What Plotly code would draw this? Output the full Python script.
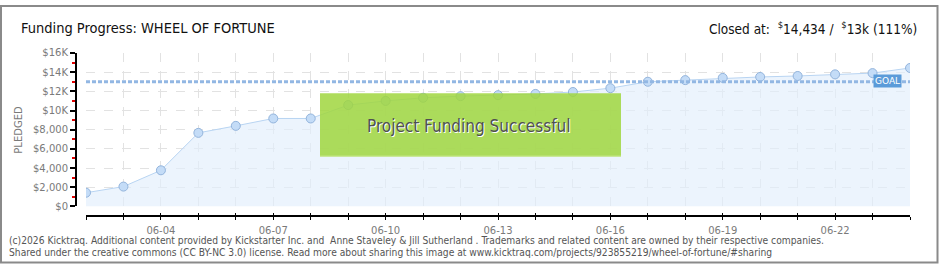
import plotly.graph_objects as go

# ---- data ----
dates = ["06-02", "06-03", "06-04", "06-05", "06-06", "06-07", "06-08", "06-09",
         "06-10", "06-11", "06-12", "06-13", "06-14", "06-15", "06-16", "06-17",
         "06-18", "06-19", "06-20", "06-21", "06-22", "06-23", "06-24"]
pledged = [1430, 2070, 3770, 7670, 8400, 9170, 9170, 10570,
           11000, 11330, 11500, 11600, 11730, 11930, 12330, 13000,
           13170, 13400, 13500, 13600, 13770, 13900, 14434]
goal = 13000
x_label_dates = ["06-04", "06-07", "06-10", "06-13", "06-16", "06-19", "06-22"]
y_tick_vals = [0, 2000, 4000, 6000, 8000, 10000, 12000, 14000, 16000]
y_tick_text = ["$0", "$2,000", "$4,000", "$6,000", "$8,000", "$10K", "$12K", "$14K", "$16K"]

W, H = 940, 270
X0, X1 = 86, 910      # plot area px
Y0, Y1 = 50, 210      # top, bottom px (16K .. 0)
YAXIS_X = 76
XAXIS_Y = 220

def px(x):
    return x / W

def py(y):
    return 1 - y / H

fig = go.Figure()

# area + line + markers
fig.add_trace(go.Scatter(
    x=dates, y=pledged, mode="lines+markers",
    fill="tozeroy", fillcolor="rgba(226,238,252,0.65)",
    line=dict(color="#b8d4f2", width=1),
    marker=dict(size=9, color="#c4dcf7", line=dict(color="#93b4dc", width=1)),
    hoverinfo="skip", showlegend=False, xaxis="x", yaxis="y",
))

# goal line
fig.add_trace(go.Scatter(
    x=[dates[0], dates[-1]], y=[goal, goal], mode="lines",
    line=dict(color="#92b7e3", width=3, dash="4px,2px"),
    hoverinfo="skip", showlegend=False, xaxis="x", yaxis="y",
))

# invisible traces for overlay axes
for xa in ["x2", "x3", "x4"]:
    fig.add_trace(go.Scatter(x=dates, y=pledged, mode="markers", marker=dict(opacity=0),
                             hoverinfo="skip", showlegend=False, xaxis=xa, yaxis="y2"))

xr = [0, len(dates) - 1]

fig.update_layout(
    width=W, height=H,
    margin=dict(l=0, r=0, t=0, b=0, pad=0),
    paper_bgcolor="white", plot_bgcolor="rgba(0,0,0,0)",
    xaxis=dict(type="category", domain=[px(X0), px(X1)], range=xr,
               showgrid=True, gridcolor="#e2e2e2", griddash="dash", gridwidth=1,
               showticklabels=False, showline=False, zeroline=False,
               anchor="y"),
    yaxis=dict(domain=[py(Y1), py(Y0)], range=[0, 16000],
               showgrid=True, gridcolor="#e2e2e2", griddash="dash", gridwidth=1,
               tickvals=y_tick_vals, showticklabels=False, showline=False,
               zeroline=False, anchor="x"),
    # axis line + outward ticks
    xaxis2=dict(type="category", overlaying="x", anchor="free", position=py(XAXIS_Y),
                range=xr, showgrid=False, showline=True, linecolor="black", linewidth=2,
                ticks="outside", ticklen=3, tickwidth=1, tickcolor="black",
                tickmode="array", tickvals=dates, showticklabels=False,
                zeroline=False),
    # inward ticks
    xaxis3=dict(type="category", overlaying="x", anchor="free", position=py(XAXIS_Y),
                range=xr, showgrid=False, showline=False,
                ticks="inside", ticklen=3, tickwidth=1, tickcolor="black",
                tickmode="array", tickvals=dates, showticklabels=False,
                zeroline=False),
    # labels
    xaxis4=dict(type="category", overlaying="x", anchor="free", position=py(XAXIS_Y),
                range=xr, showgrid=False, showline=False,
                ticks="outside", ticklen=5, tickcolor="rgba(0,0,0,0)",
                tickmode="array", tickvals=x_label_dates, ticktext=x_label_dates,
                tickfont=dict(family="DejaVu Sans", size=10, color="#7a7a7a"),
                zeroline=False),
    yaxis2=dict(overlaying="y", anchor="free", position=px(YAXIS_X), side="left",
                range=[0, 16000], showgrid=False, showline=True, linecolor="black",
                linewidth=2, ticks="outside", ticklen=5, tickwidth=2, tickcolor="black",
                tickmode="array", tickvals=y_tick_vals, ticktext=y_tick_text,
                tickfont=dict(family="DejaVu Sans", size=10, color="#7a7a7a"),
                minor=dict(ticks="outside", ticklen=3, tickwidth=2, tickcolor="#e00000",
                           tickmode="linear", tick0=1000, dtick=2000, showgrid=False),
                zeroline=False),
)

shapes = []
# outer frame
shapes.append(dict(type="rect", xref="paper", yref="paper",
                   x0=px(1), x1=px(937.5), y0=py(268.5), y1=py(1),
                   line=dict(color="#8a8a8a", width=2), fillcolor="rgba(0,0,0,0)"))
# success box
shapes.append(dict(type="rect", xref="paper", yref="paper",
                   x0=px(320), x1=px(621), y0=py(158), y1=py(92),
                   line=dict(width=0), fillcolor="rgba(160,214,62,0.85)", layer="above"))
shapes.append(dict(type="line", xref="paper", yref="paper",
                   x0=px(320), x1=px(621), y0=py(157.5), y1=py(157.5),
                   line=dict(color="#c8e88e", width=1), layer="above"))
fig.update_layout(shapes=shapes)

ann = []
ann.append(dict(text="Funding Progress: WHEEL OF FORTUNE", xref="paper", yref="paper",
                x=px(19), y=py(24), xanchor="left", yanchor="middle", showarrow=False,
                font=dict(family="DejaVu Sans Condensed", size=14.5, color="#111111")))
ann.append(dict(text="Closed at:  <sup>$</sup>14,434 /  <sup>$</sup>13k (111%)",
                xref="paper", yref="paper",
                x=px(919), y=py(24), xanchor="right", yanchor="middle", showarrow=False,
                font=dict(family="DejaVu Sans Condensed", size=13.5, color="#111111")))
ann.append(dict(text="PLEDGED", xref="paper", yref="paper", textangle=-90,
                x=px(19), y=py(130), xanchor="center", yanchor="middle", showarrow=False,
                font=dict(family="DejaVu Sans", size=10, color="#7a7a7a")))
ann.append(dict(text="Project Funding Successful", xref="paper", yref="paper",
                x=px(469), y=py(126), xanchor="center", yanchor="middle", showarrow=False,
                font=dict(family="DejaVu Sans Condensed", size=17, color="#505050",
                          shadow="1px 1px 0px #ffffff")))
ann.append(dict(text="GOAL", xref="paper", yref="paper",
                x=px(887.5), y=py(79), xanchor="center", yanchor="middle", showarrow=False,
                bgcolor="#5b9bd9", borderpad=1,
                font=dict(family="DejaVu Sans", size=9, color="white")))
ann.append(dict(text="(c)2026 Kicktraq. Additional content provided by Kickstarter Inc. and  Anne Staveley &amp; Jill Sutherland . Trademarks and related content are owned by their respective companies.",
                xref="paper", yref="paper", x=px(7), y=py(246), xanchor="left", yanchor="middle",
                showarrow=False, font=dict(family="DejaVu Sans Condensed", size=10.2, color="#555555")))
ann.append(dict(text="Shared under the creative commons (CC BY-NC 3.0) license. Read more about sharing this image at www.kicktraq.com/projects/923855219/wheel-of-fortune/#sharing",
                xref="paper", yref="paper", x=px(7), y=py(258), xanchor="left", yanchor="middle",
                showarrow=False, font=dict(family="DejaVu Sans Condensed", size=10.2, color="#555555")))
fig.update_layout(annotations=ann)

fig.write_html("out.html")
